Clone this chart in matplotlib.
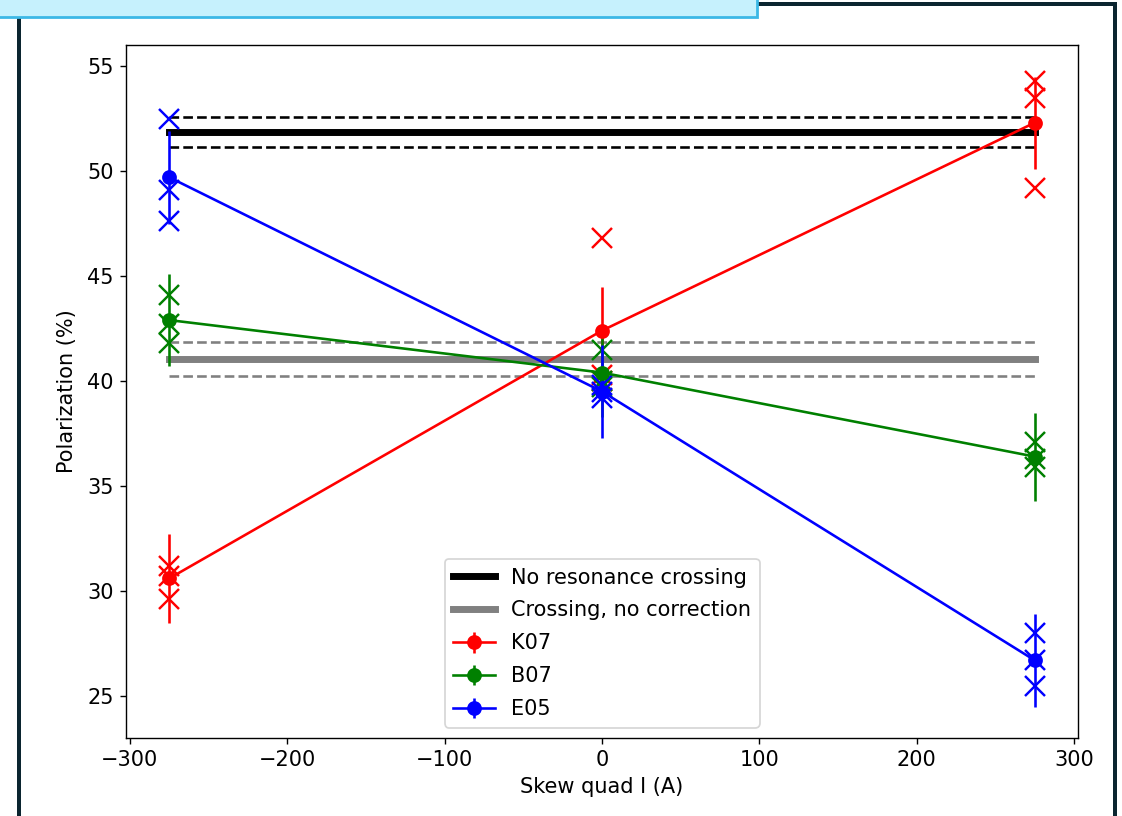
import matplotlib
matplotlib.use("Agg")
import matplotlib.pyplot as plt
from matplotlib.patches import Rectangle

# skew quad current settings (A)
currents = [-275, 0, 275]

# reference polarization levels (%): mean and uncertainty
no_crossing = 51.85
no_crossing_err = 0.73
crossing_no_corr = 41.05
crossing_no_corr_err = 0.82

# per-polarimeter averages with error bars
k07_mean = [30.6, 42.4, 52.3]
k07_err = [2.1, 2.1, 2.2]
b07_mean = [42.9, 40.4, 36.4]
b07_err = [2.2, 2.1, 2.1]
e05_mean = [49.7, 39.5, 26.7]
e05_err = [2.2, 2.2, 2.2]

# individual measurements at each current
k07_runs = [[31.2, 30.7, 29.6], [46.8, 40.3, 40.0], [54.3, 53.5, 49.2]]
b07_runs = [[44.1, 42.7, 41.8], [41.5, 40.0, 39.7], [37.1, 36.3, 35.9]]
e05_runs = [[52.5, 49.1, 47.6], [39.8, 39.5, 39.2], [28.0, 26.7, 25.5]]

plt.rcParams['font.size'] = 12

DPI = 125
fig = plt.figure(figsize=(1122 / DPI, 816 / DPI), dpi=DPI)
W, H = 1122, 816
ax = fig.add_axes([126 / W, 1 - 738 / H, (1078 - 126) / W, (738 - 45) / H])

xr = [currents[0], currents[-1]]
ax.plot(xr, [no_crossing] * 2, color='black', lw=4, label='No resonance crossing')
ax.plot(xr, [no_crossing + no_crossing_err] * 2, 'k--', lw=1.5)
ax.plot(xr, [no_crossing - no_crossing_err] * 2, 'k--', lw=1.5)
ax.plot(xr, [crossing_no_corr] * 2, color='gray', lw=4, label='Crossing, no correction')
ax.plot(xr, [crossing_no_corr + crossing_no_corr_err] * 2, '--', color='gray', lw=1.5)
ax.plot(xr, [crossing_no_corr - crossing_no_corr_err] * 2, '--', color='gray', lw=1.5)

series = [
    ('K07', 'red', k07_mean, k07_err, k07_runs),
    ('B07', 'green', b07_mean, b07_err, b07_runs),
    ('E05', 'blue', e05_mean, e05_err, e05_runs),
]
for name, col, mean, err, runs in series:
    for x, vals in zip(currents, runs):
        ax.plot([x] * len(vals), vals, 'x', color=col, ms=11, mew=1.4)
    ax.errorbar(currents, mean, yerr=err, fmt='o-', color=col, ms=7.5,
                lw=1.5, label=name)

ax.set_xlabel('Skew quad I (A)')
ax.set_ylabel('Polarization (%)', labelpad=6)
ax.legend(loc='lower center', handlelength=2.0, labelspacing=0.62)

# surrounding frame and header box
frame = '#0b2530'
fig.add_artist(Rectangle((17 / W, 0), 4 / W, 1 - 17 / H, transform=fig.transFigure,
                         color=frame, lw=0))
fig.add_artist(Rectangle((758 / W, 1 - 6 / H), (1117 - 758) / W, 4 / H,
                         transform=fig.transFigure, color=frame, lw=0))
fig.add_artist(Rectangle((1113 / W, 0), 4 / W, 1 - 2 / H, transform=fig.transFigure,
                         color=frame, lw=0))
fig.add_artist(Rectangle((-0.01, 1 - 17 / H), 0.01 + 757 / W, 17 / H + 0.01,
                         transform=fig.transFigure, facecolor='#c6f1fd',
                         edgecolor='#3cb8e6', lw=1.6))

fig.savefig('out.png', dpi=DPI)
